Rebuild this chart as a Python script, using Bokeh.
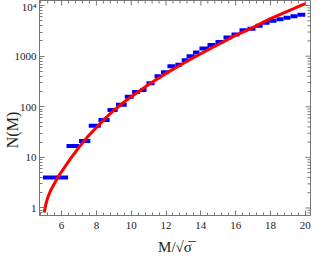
import math
from bokeh.plotting import figure
from bokeh.models import FixedTicker, SingleIntervalTicker, Range1d
from bokeh.embed import file_html
from bokeh.resources import INLINE

# ---- data ----
# blue step segments: left edge, right edge, N
blue_left = [4.93, 6.28, 7.00, 7.56, 8.12, 8.64, 9.13, 9.63, 10.05, 10.51, 10.88,
             11.34, 11.71, 12.08, 12.54, 12.90, 13.18, 13.55, 13.92, 14.38, 14.84,
             15.30, 15.76, 16.22, 16.68, 17.14, 17.55, 17.95, 18.35, 18.75, 19.15,
             19.55]
blue_right = [6.37, 7.00, 7.65, 8.25, 8.76, 9.22, 9.74, 10.14, 10.51, 10.88, 11.34,
              11.71, 12.17, 12.54, 12.90, 13.28, 13.64, 13.92, 14.47, 14.84, 15.30,
              15.76, 16.22, 16.68, 17.14, 17.55, 17.95, 18.35, 18.75, 19.15, 19.55,
              20.00]
blue_N = [4.0, 16.7, 21, 42, 55, 86, 109, 158, 195, 214, 290,
          400, 480, 630, 680, 830, 1000, 1180, 1410, 1660, 1900,
          2340, 2690, 3240, 3470, 3980, 4570, 5010, 5370, 5750, 6170,
          6610]

# red fitted curve, sampled points
red_x = [5.0, 5.1, 5.2, 5.35, 5.5, 5.82, 6.0, 6.5, 7.0, 7.5, 8.0, 8.5, 9.0, 9.5,
         10.0, 11.0, 12.0, 13.0, 14.0, 15.0, 16.0, 17.0, 18.0, 19.0, 20.0]
red_logN = [-0.09, 0.08, 0.20, 0.33, 0.43, 0.625, 0.72, 0.97, 1.20, 1.41, 1.59,
            1.77, 1.93, 2.07, 2.20, 2.44, 2.66, 2.86, 3.05, 3.23, 3.41, 3.57,
            3.74, 3.89, 4.04]
red_N = [10 ** v for v in red_logN]

x_major = [6, 8, 10, 12, 14, 16, 18, 20]
y_major = [1, 10, 100, 1000, 10000]
y_labels = {1: "1", 10: "10", 100: "100", 1000: "1000", 10000: "10\u2074"}

# ---- figure ----
FONT = "Liberation Serif"
AX = "#777777"
TXT = "#222222"
X0, X1 = 4.73, 20.3
Y0, Y1 = 0.71, 12590

p = figure(width=311, height=257, output_backend="svg", toolbar_location=None,
           y_axis_type="log",
           x_range=Range1d(X0, X1), y_range=Range1d(Y0, Y1),
           min_border_left=35, min_border_right=1, min_border_top=0,
           min_border_bottom=40)
p.background_fill_color = "white"
p.border_fill_color = "white"
p.outline_line_color = AX
p.outline_line_width = 1
p.grid.visible = False

minor_y = [m * 10 ** k for k in range(-1, 5) for m in range(2, 10)
           if Y0 <= m * 10 ** k <= Y1]
minor_x = [v / 10 for v in range(48, 202, 4) if (v / 10) not in x_major]


def style(ax):
    ax.axis_line_color = AX
    ax.major_tick_line_color = AX
    ax.minor_tick_line_color = AX
    ax.major_tick_in = 5
    ax.major_tick_out = 0
    ax.minor_tick_in = 3
    ax.minor_tick_out = 0
    ax.major_label_text_font = FONT
    ax.major_label_text_color = TXT
    ax.major_label_text_font_size = "11px"
    ax.axis_label_text_font = FONT
    ax.axis_label_text_font_style = "normal"
    ax.axis_label_text_color = TXT
    ax.axis_label_text_font_size = "15px"


xa = p.xaxis[0]
xa.ticker = SingleIntervalTicker(interval=2, num_minor_ticks=5)
style(xa)
xa.major_label_standoff = 6
xa.axis_label = "M/\u221a\u03c3\u0305"
xa.axis_label_standoff = 7

ya = p.yaxis[0]
ya.ticker = FixedTicker(ticks=y_major, minor_ticks=minor_y)
ya.major_label_overrides = y_labels
style(ya)
ya.major_label_standoff = 3
ya.axis_label = "N(M)" + "\u00a0" * 11
ya.axis_label_text_font_size = "16px"
ya.axis_label_standoff = -9

# inward ticks on the top and right edges of the frame
p.ray(x=x_major, y=[Y1] * len(x_major), length=5, length_units="screen",
      angle=-math.pi / 2, line_color=AX, line_width=1)
p.ray(x=minor_x, y=[Y1] * len(minor_x), length=3, length_units="screen",
      angle=-math.pi / 2, line_color=AX, line_width=1)
p.ray(x=[X1] * len(y_major), y=y_major, length=5, length_units="screen",
      angle=math.pi, line_color=AX, line_width=1)
p.ray(x=[X1] * len(minor_y), y=minor_y, length=3, length_units="screen",
      angle=math.pi, line_color=AX, line_width=1)

p.segment(x0=blue_left, y0=blue_N, x1=blue_right, y1=blue_N,
          line_color="#0000ff", line_width=4, line_cap="butt")
p.line(red_x, red_N, line_color="#ff0000", line_width=3)

open("out.html", "w").write(file_html(p, INLINE))
